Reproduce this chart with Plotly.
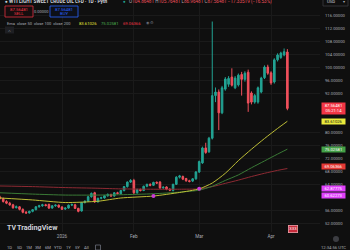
import pandas as pd
import plotly.graph_objects as go

# ---------------- data ----------------
dates = [d.strftime("%Y-%m-%d") for d in pd.bdate_range("2025-12-05", "2026-04-08")]

opens = [60.3, 59.8, 58.9, 58.4, 57.9, 57.0, 57.3, 56.5, 55.6, 55.4,
         55.9, 56.4, 57.3, 57.6, 57.9, 58.0, 56.9, 57.6, 57.8, 57.2,
         56.6, 56.9, 57.8, 57.9, 56.8, 56.0, 58.6, 59.0, 60.4, 61.6,
         58.8, 59.9, 60.0, 60.7, 61.1, 60.6, 61.6, 61.3, 62.3, 63.5,
         64.9, 65.4, 61.6, 62.6, 62.3, 63.6, 64.2, 63.9, 64.8, 64.9,
         63.1, 63.4, 62.7, 62.3, 64.2, 66.4, 66.6, 66.0, 65.3, 65.2,
         65.9, 68.0, 70.8, 75.4, 74.2, 78.4, 91.5, 92.6, 86.2, 93.5,
         95.0, 97.2, 93.9, 94.8, 98.0, 96.5, 98.7, 92.3, 89.5, 89.5,
         92.6, 97.0, 100.3, 98.5, 95.7, 102.5, 103.2, 104.0, 104.9]
highs = [60.7, 60.1, 59.3, 58.8, 58.2, 57.7, 57.5, 56.8, 56.0, 56.1,
         56.6, 57.5, 57.9, 58.2, 58.2, 58.3, 57.8, 58.0, 58.0, 57.5,
         57.1, 58.0, 58.3, 58.2, 57.0, 58.8, 59.3, 60.6, 61.7, 61.9,
         60.1, 60.4, 60.9, 61.4, 61.3, 61.8, 61.9, 62.5, 63.7, 65.1,
         65.8, 65.9, 62.9, 62.9, 63.8, 64.4, 64.5, 65.0, 65.1, 65.2,
         63.6, 63.6, 63.0, 64.4, 66.7, 67.1, 66.9, 66.2, 65.6, 66.1,
         68.3, 71.5, 75.8, 77.0, 78.8, 114.3, 94.0, 93.4, 94.5, 97.2,
         97.5, 99.9, 97.5, 98.3, 98.8, 99.0, 99.5, 92.8, 92.0, 94.3,
         97.3, 100.8, 101.0, 99.0, 103.0, 104.5, 105.0, 106.0, 105.8]
lows = [59.6, 58.6, 58.1, 57.6, 56.7, 56.8, 56.2, 55.3, 55.1, 55.2,
        55.6, 56.2, 57.0, 57.3, 57.4, 56.6, 56.7, 57.3, 56.9, 56.3,
        56.3, 56.7, 57.5, 56.6, 55.6, 55.8, 58.3, 58.8, 60.1, 58.5,
        58.6, 59.6, 59.8, 60.4, 60.3, 60.4, 61.1, 61.1, 62.0, 63.2,
        64.6, 61.2, 61.3, 62.0, 62.1, 63.3, 63.6, 63.7, 64.3, 62.8,
        62.8, 62.4, 62.1, 62.0, 64.0, 66.0, 65.5, 65.0, 64.8, 64.9,
        65.6, 67.7, 70.5, 73.6, 73.9, 78.0, 89.5, 80.9, 85.8, 93.0,
        94.2, 94.3, 93.5, 94.3, 91.5, 95.8, 86.5, 88.8, 89.0, 89.0,
        92.2, 96.6, 97.9, 94.8, 95.2, 102.0, 102.8, 103.6, 87.0]
closes = [59.8, 58.9, 58.4, 57.9, 57.0, 57.3, 56.5, 55.6, 55.4, 55.9,
          56.4, 57.3, 57.6, 57.9, 57.7, 56.9, 57.6, 57.8, 57.2, 56.5,
          56.9, 57.8, 58.0, 56.8, 55.9, 58.6, 59.0, 60.4, 61.4, 58.8,
          59.9, 60.1, 60.7, 61.1, 60.6, 61.6, 61.4, 62.3, 63.5, 64.9,
          65.4, 61.6, 62.6, 62.3, 63.6, 64.2, 63.9, 64.8, 64.6, 63.1,
          63.3, 62.7, 62.4, 64.2, 66.4, 66.8, 65.8, 65.3, 65.1, 65.9,
          68.0, 71.2, 75.4, 74.0, 78.4, 91.5, 92.6, 86.2, 93.9, 96.6,
          96.8, 94.7, 96.9, 97.8, 96.5, 98.4, 89.2, 89.5, 91.5, 93.9,
          96.9, 100.3, 98.4, 95.4, 102.5, 104.0, 104.6, 105.0, 87.56481]

# EMA lines at knot bars
ema_bars = [0, 10, 20, 30, 37, 47, 55, 61, 65, 69, 73, 77, 81, 85, 88]
ema50 = [60.0, 59.4, 58.6, 59.0, 60.0, 60.6, 61.7, 62.8, 64.6, 67.6, 71.5, 75.0, 78.3, 81.4, 83.61026]
ema100 = [61.6, 61.2, 60.9, 60.9, 61.0, 61.3, 61.8, 62.4, 63.6, 65.4, 67.1, 69.3, 71.4, 73.5, 75.02581]
ema200 = [63.7, 63.5, 63.2, 63.0, 62.8, 62.7, 62.7, 62.8, 63.5, 64.5, 65.5, 66.6, 67.6, 68.5, 69.06366]

marker_bars = [47, 61]
marker_vals = [60.62273, 62.87775]

# price-scale labels that stay visible (others are covered by value tags)
price_ticks = [52, 56, 64, 68, 72, 76, 80, 92, 96, 100, 104, 108, 112, 116]
month_labels = ["2026", "Feb", "Mar", "Apr"]
month_keys = ["2026-01", "2026-02", "2026-03", "2026-04"]

last_price = "87.56481"
spread = "0.00000"

# ---------------- figure ----------------
W, H = 350, 250
ML, MR, MT, MB = 0, 30, 0, 18
PW, PH = W - ML - MR, H - MT - MB
BG = "#0f0f0f"
GRID = "#1a1a1a"
TXT = "#a9acb5"
UP, DN = "#22a393", "#f0505c"
FONT = "Roboto"

idx = list(range(len(dates)))
month_idx = [next(i for i, d in enumerate(dates) if d.startswith(k)) for k in month_keys]


def px(x):
    return (x - ML) / PW


def py(y):
    return (PH + MT - y) / PH


fig = go.Figure()
fig.add_trace(go.Candlestick(
    x=idx, open=opens, high=highs, low=lows, close=closes,
    increasing=dict(line=dict(color=UP, width=1), fillcolor=UP),
    decreasing=dict(line=dict(color=DN, width=1), fillcolor=DN),
    whiskerwidth=0, hoverinfo="skip", showlegend=False))
for vals, col in [(ema200, "#8e2a33"), (ema100, "#3a7a36"), (ema50, "#bdbd36")]:
    fig.add_trace(go.Scatter(x=ema_bars, y=vals, mode="lines",
                             line=dict(color=col, width=1, shape="spline", smoothing=0.6),
                             hoverinfo="skip", showlegend=False))
fig.add_trace(go.Scatter(x=marker_bars, y=marker_vals, mode="markers",
                         marker=dict(color="#c93bd8", size=4), hoverinfo="skip", showlegend=False))

ann = []
shapes = []


def text(x, y, t, size=4.6, color=TXT, anchor="left", **kw):
    ann.append(dict(x=px(x), y=py(y), xref="paper", yref="paper", text=t, showarrow=False,
                    xanchor=anchor, yanchor="middle", font=dict(family=FONT, size=size, color=color), **kw))


def rect(x0, y0, x1, y1, line=None, fill=None):
    shapes.append(dict(type="rect", xref="paper", yref="paper", x0=px(x0), x1=px(x1), y0=py(y1), y1=py(y0),
                       line=dict(color=line or "rgba(0,0,0,0)", width=0.8),
                       fillcolor=fill or "rgba(0,0,0,0)", layer="above"))


# header
text(3, 1.5, "● <b>WTI LIGHT SWEET CRUDE OIL CFD · 1D · Pyth</b>", size=4.8, color="#d1d4dc")
text(121, 1.5, "●", size=4.5, color=UP)
red = DN
ohlc = (f"O<span style='color:{red}'>104.86481</span> H<span style='color:{red}'>105.76481</span> "
        f"L<span style='color:{red}'>86.96481</span> C<span style='color:{red}'>{last_price}</span> "
        f"<span style='color:{red}'>−17.33519 (−16.53%)</span>")
text(127, 1.5, ohlc, size=4.6, color=TXT)

rect(5, 6, 33, 17, line="#e0303f", fill="#160d0e")
text(19, 9.3, last_price, size=4.3, color="#f23645", anchor="center")
text(19, 14, "SELL", size=4.3, color="#f23645", anchor="center")
text(41.5, 11.5, spread, size=4.0, color=TXT, anchor="center")
rect(50, 6, 78, 17, line="#2962ff", fill="#0d1018")
text(64, 9.3, last_price, size=4.3, color="#2962ff", anchor="center")
text(64, 14, "BUY", size=4.3, color="#2962ff", anchor="center")

text(5, 23, "Ema  close 50  close 100  close 200", size=4.0, color=TXT)
text(77, 23, "83.61026", size=4.2, color="#e8e83a")
text(99, 23, "75.02581", size=4.2, color="#4caf50")
text(121, 23, "69.06366", size=4.2, color="#f23645")
text(143.5, 23, "◉ ⚙", size=3.6, color="#6a6d78")
rect(5, 26.5, 14, 33.5, fill="#1e1f23")
text(9.5, 30.3, "˄", size=5, color=TXT, anchor="center")

# USD dropdown
rect(323, -2, 348, 6, line="#3a3b40", fill=BG)
text(331, 2, "USD", size=4.3, color="#d1d4dc", anchor="center")
text(344, 2, "▾", size=4, color=TXT, anchor="center")


# price-scale value tags
def plabel(v, t, bg, fg, h=5.2):
    ann.append(dict(x=px(333.5), y=v, xref="paper", yref="y", text=t, showarrow=False,
                    xanchor="center", yanchor="middle", bgcolor=bg, width=23, height=h, borderpad=0,
                    font=dict(family=FONT, size=4.2, color=fg)))


plabel(float(last_price), f"{last_price}<br>05:21:14", "#f23645", "#ffffff", h=10.5)
plabel(ema50[-1], "83.61026", "#eaea3c", "#131313")
plabel(ema100[-1] - 0.2, "75.02581", "#43a047", "#ffffff")
plabel(ema200[-1] + 0.7, "69.06366", "#e53935", "#ffffff")
plabel(marker_vals[1], "62.87775", "#e040fb", "#ffffff")
plabel(marker_vals[0], "60.62273", "#e040fb", "#ffffff")

# bottom
text(4.5, 227.5, "<b>TV</b>", size=7.0, color="#d1d4dc")
text(15, 227.5, "<b>TradingView</b>", size=7.2, color="#d1d4dc")
ann.append(dict(x=px(293), y=py(229), xref="paper", yref="paper", text="333", showarrow=False,
                xanchor="center", yanchor="middle", bgcolor="#c62a3a", bordercolor="#f0a0a8", borderwidth=0.8,
                borderpad=0.5, font=dict(family=FONT, size=4.3, color="#ffffff")))
shapes.append(dict(type="circle", xref="paper", yref="paper", x0=px(333), x1=px(339), y0=py(242), y1=py(236),
                   fillcolor="#3c3d42", line=dict(width=0)))
for x, t in zip([9.5, 19, 28.5, 38, 47.5, 58, 68, 77, 86], ["1D", "5D", "1M", "3M", "6M", "YTD", "1Y", "5Y", "All"]):
    text(x, 247.5, t, size=4.2, color=TXT, anchor="center")
rect(95.5, 245, 100.5, 250, line="#6a6d78")
text(333, 247.5, "12:34:56 UTC", size=4.2, color=TXT, anchor="center")

fig.update_layout(
    width=W, height=H, margin=dict(l=ML, r=MR, t=MT, b=MB),
    paper_bgcolor=BG, plot_bgcolor=BG, showlegend=False,
    annotations=ann, shapes=shapes,
    xaxis=dict(range=[0.0153, 97.99], tickvals=month_idx, ticktext=month_labels,
               showgrid=True, gridcolor=GRID, gridwidth=1, zeroline=False, showline=False,
               ticks="", tickfont=dict(family=FONT, size=4.6, color=TXT), rangeslider=dict(visible=False),
               fixedrange=True),
    yaxis=dict(range=[120.92 - PH / 3.25, 120.92], side="right", tickvals=price_ticks,
               ticktext=[f"{v:.5f}" for v in price_ticks], showgrid=True, gridcolor=GRID,
               zeroline=False, showline=False, ticks="", ticklabelstandoff=4,
               tickfont=dict(family=FONT, size=4.2, color=TXT), fixedrange=True),
)

fig.write_html("out.html")
